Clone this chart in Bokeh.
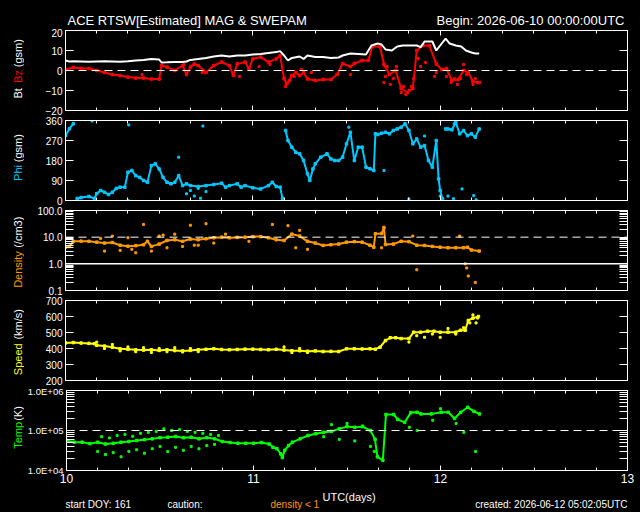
import numpy as np
from math import pi
from bokeh.plotting import figure
from bokeh.layouts import column, row
from bokeh.models import Range1d, LinearAxis, LogAxis, FixedTicker, Span
from bokeh.core.properties import value
from bokeh.embed import file_html
from bokeh.resources import INLINE

NaN = float("nan")

# ---------------- data (hours after 2026-06-10 00:00 UTC) ----------------
bt_h = [0, 0.5, 1, 2, 3, 4, 5, 6, 7, 8, 9, 10, 11, 12, 12.3, 13, 14, 15, 15.5, 16, 17, 18, 19, 20, 21, 22, 23,
        24, 25, 26, 27, 27.5, 28, 28.5, 29, 30, 30.5, 31, 32, 33, 34, 35, 35.5, 36.5, 37.5, 38.5, 39.2, 40, 40.5,
        41, 41.8, 42.5, 43.2, 44, 45, 45.5, 46, 47, 47.5, 48, 48.7, 49.2, 50, 50.7, 51.3, 52, 52.5, 53]
bt = [5, 4.5, 4.6, 4.5, 4.4, 4.5, 4.6, 4.5, 4.4, 4.6, 5, 5.3, 5.8, 5.5, 4, 4.1, 4.3, 4.2, 4.5, 5.3, 5.8, 6.3, 7, 7.5,
      7, 7.5, 7.5, 8, 8.3, 8.8, 9.2, 9.7, 7.5, 5, 6.3, 7, 5.8, 7.5, 6.7, 6.7, 6.2, 6.5, 7.5, 8.5, 8.3, 8, 12.5, 13.5,
      13, 10.5, 10, 12, 12.5, 12.5, 12.5, 11.7, 14.5, 14.5, 10, 12.5, 16, 13.5, 12.5, 12, 10, 9, 8.5, 8.5]
bz_h = [0, 1, 2, 3, 4, 5, 6, 7, 8, 9, 10, 11, 12, 12.3, 13, 14, 15, 15.5, 16, 16.5, 17, 18, 19, 20, 21, 21.5, 22,
        23, 23.5, 24, 25, 26, 27, 27.5, 28, 28.3, 28.7, 29, 29.5, 30, 30.5, 31, 32, 33, 34, 34.8, 35.5, 36.5, 37,
        38, 38.8, 39.3, 40.3, 40.8, 41.5, 42.3, 43, 43.8, 44.5, 45, 45.8, 46.6, 47.5, 48.2, 48.8, 49.5, 50.3,
        51, 51.6, 52.2, 53]
bz = [0.5, 1.5, 1, 1, 0, -1, -2, -2.5, -3.3, -3.8, -3.8, -4.3, -4.3, 2.5, 1.7, 0, 2.5, -2, 1.7, 3.3, 2.5, -1, 2.5,
      4.2, 2.5, -2.5, 3.3, 4.2, 0.8, 5.8, 6.7, 4.2, 5.8, 7.5, -4, -6.7, -5, -2.5, -1, -2.5, -1, -4.2, -5, -4.5,
      -4.5, -2, 3.5, 2, 3.5, 5, 5, 12, 12, 3, -2, 0, -9, -11, -9, 10, 12.5, 12.5, 3.3, 0.5, 1, -5, -4.5, 0, -1,
      -5.5, -6]
bz_sc_h = [9.8, 15.2, 17.5, 22.3, 24.8, 26.2, 28.2, 28.5, 29.3, 30.2, 31.5, 36.5, 40.8, 41.0, 41.2, 41.6, 42.0,
           42.4, 43.0, 43.3, 43.6, 44.0, 44.3, 44.6, 45.2, 45.5, 46.1, 47.3, 47.5, 48.8, 49.4, 49.8, 50.2, 50.6,
           51.0, 51.4, 52.2, 52.5, 52.8]
bz_sc = [-2, 3, -1, -3, 2, 3, -8, -6, -3, 0.5, -1, -2, -6, -3, 2, -7, -4, 2, -11, -8, -12, -10, -8, -4, 6, 2, 4,
         -3, -1, -3, -6, -4, -7, -4, 3, -2, -7, -4, -6]

phi_h = [0, 0.5, 1, 1.3, 1.5, 2, 3, 3.7, 4, 4.5, 5, 5.5, 6, 6.5, 7, 7.6, 8, 8.5, 9, 9.5, 10, 10.5, 11, 11.5, 12,
         12.5, 13, 13.5, 14, 14.5, 15, 15.5, 16, 17, 18, 19, 20, 20.5, 21, 22, 22.5, 23, 24, 25, 26, 26.5, 27,
         27.5, 27.8, 28, 28.2, 28.5, 29, 29.5, 30, 30.5, 31, 31.3, 31.7, 32, 32.7, 33.5, 34, 34.5, 35, 35.5, 36,
         36.5, 37, 37.5, 38, 38.5, 39, 39.5, 39.7, 40, 40.5, 41, 41.5, 42, 42.5, 43, 43.5, 44, 44.5, 45, 45.5,
         46, 46.5, 47, 47.5, 47.8, 48, 48.3, 48.5, 48.7, 49, 49.5, 50, 50.5, 51, 51.5, 52, 52.5, 53]
phi = [292, 323, 345, NaN, 9, 13, 18, 9, 31, 45, 37, 27, 37, 54, 60, 60, 127, 135, 112, 104, 90, 82, 157, 165, 142,
       104, 82, 75, 82, 112, 67, 75, 67, 63, 67, 72, 78, 60, 67, 75, 60, 67, 57, 52, 67, 82, 63, 60, 9, NaN, 315,
       270, 240, 217, 210, 180, 120, 90, 142, 165, 195, 210, 187, 180, 180, 195, 255, 307, 180, 240, 240, 150,
       143, 135, 300, 297, 303, 307, 300, 315, 322, 330, 345, 315, 255, 277, 240, 247, 180, 150, 270, 97, 45, 7,
       NaN, 322, 322, 318, 352, 300, 315, 292, 300, 285, 322]
phi_sc_h = [3.4, 8.0, 8.1, 14.5, 15.5, 16.0, 16.5, 17.0, 17.3, 17.6, 18.0, 40.8, 44.0, 48.0, 49.0, 49.7, 50.8,
            52.3, 52.6, 36.3, 46.0, 49.8]
phi_sc = [358, 0, 340, 195, 30, 45, 20, 55, 10, 335, 40, 135, 7, 20, 20, 8, 52, 22, 3, 330, 290, 345]

den_h = [0, 0.5, 1, 2, 3, 4, 5, 6, 7, 8, 9, 10, 10.5, 11, 12, 13, 14, 15, 16, 17, 18, 19, 20, 21, 22, 23, 24, 25,
         26, 27, 28, 29, 30, 31, 32, 33, 34, 35, 36, 37, 38, 39, 39.5, 39.7, 40.5, 40.8, 41, 42, 43, 44, 45, 46,
         47, 48, 49, 50, 51, 51.5, 52, 53]
den = [4.2, 4.5, 7.0, 7.1, 7.0, 6.5, 6.0, 6.3, 5.0, 4.6, 4.8, 5.2, 7.0, 4.5, 5.5, 7.5, 8.0, 7.0, 8.5, 8.0, 8.7,
       9.5, 10, 9.5, 9.8, 10, 10.5, 10.5, 9.5, 8.0, 7.5, 13, 11, 7.0, 6.0, 4.9, 5.2, 5.5, 6.5, 6.8, 6.5, 5.0, 4.2,
       13.4, 13.7, 23, 5.3, 5.5, 7.0, 6.8, 5.0, 4.9, 4.5, 4.2, 4.0, 4.0, 4.0, 4.2, 3.3, 3.0]
den_sc_h = [5, 6, 7, 8, 9, 10, 11, 12, 13, 14, 15, 16, 17, 18, 19, 26.5, 28.5, 29.5, 30, 31, 40.5, 44.5, 45, 50.5,
            51.2, 51.4, 51.6, 52.5, 4.5, 8.5, 12.5, 16.5, 20.5, 23.5]
den_sc = [3.0, 11, 3.2, 9.5, 2.6, 30, 3.0, 11, 4.0, 13, 4.5, 28, 5.0, 32, 6.0, 30, 27, 4.0, 18, 3.5, 4.0, 11, 0.6,
          11, 1.0, 0.7, 0.35, 0.2, 9, 3.5, 12, 5, 13, 7]

spd_h = [0, 1, 2, 3, 3.7, 4, 5, 6, 7, 8, 9, 10, 11, 12, 13, 14, 15, 16, 17, 18, 19, 20, 21, 22, 23, 24, 25, 26,
         27, 28, 29, 30, 31, 32, 33, 34, 35, 36, 37, 38, 39, 39.7, 40.3, 41, 41.6, 42.3, 43, 44, 44.6, 45.5, 46.4,
         47.2, 48, 49, 50, 50.6, 51.2, 51.6, 52.2, 52.9]
spd = [435, 437, 434, 432, 430, 420, 415, 408, 398, 395, 392, 390, 392, 388, 392, 387, 385, 388, 392, 395, 398,
       394, 392, 394, 396, 396, 394, 392, 395, 390, 386, 386, 383, 385, 381, 382, 381, 398, 398, 397, 398, 396,
       408, 450, 467, 467, 462, 462, 502, 502, 508, 508, 502, 502, 502, 514, 514, 575, 590, 600]
spd_sc_h = [4, 5, 6, 7, 8, 9, 10, 11, 12, 13, 14, 15, 16, 17, 28, 29, 30, 31, 44, 45, 46, 47, 48, 49, 50, 51, 51.8,
            52.2, 52.6, 52.8]
spd_sc = [440, 400, 425, 385, 410, 380, 405, 375, 400, 380, 405, 378, 400, 380, 410, 375, 400, 375, 440, 480, 470,
          490, 470, 525, 490, 530, 560, 610, 560, 590]

tmp_h = [0, 1, 2, 3, 4, 5, 6, 7, 8, 9, 10, 11, 12, 13, 14, 15, 16, 17, 18, 19, 20, 21, 22, 23, 24, 25, 26, 26.5,
         27, 27.5, 27.7, 28, 28.5, 29, 30, 31, 32, 33, 34, 35, 36, 37, 38, 39, 39.6, 39.9, 40.6, 41, 42, 42.5,
         43.4, 44.2, 45, 45.5, 46.8, 48.1, 49, 49.8, 50.6, 51.5, 52.3, 53]
tmp = [56000, 51000, 51000, 47000, 51000, 46000, 48000, 51000, 53000, 56000, 59000, 62000, 66000, 68000, 71000,
       66000, 68000, 62000, 66000, 62000, 53000, 50000, 48000, 48000, 48000, 50000, 46000, 38000, 35000, 26000,
       21000, 32000, 42000, 51000, 62000, 75000, 83000, 90000, 95000, 110000, 125000, 120000, 125000, 100000,
       60000, 22000, 18000, 250000, 250000, 190000, 160000, 280000, 285000, 260000, 260000, 285000, 285000,
       200000, 285000, 380000, 300000, 260000]
tmp_sc_h = [4, 4.5, 5, 5.5, 6, 6.5, 7, 7.5, 8, 8.5, 9, 9.5, 10, 10.5, 11, 11.5, 12, 12.5, 13, 13.5, 14, 14.5, 15,
            15.5, 16, 16.5, 17, 17.5, 18, 18.5, 19, 19.5, 33, 34, 35, 36, 37, 38, 39, 39.5, 44, 45, 47, 48, 50,
            51, 52.5]
tmp_sc = [30000, 70000, 25000, 65000, 28000, 75000, 22000, 80000, 30000, 72000, 33000, 85000, 27000, 90000, 35000,
          95000, 40000, 110000, 30000, 100000, 38000, 105000, 32000, 95000, 40000, 90000, 35000, 85000, 42000,
          80000, 45000, 75000, 70000, 140000, 60000, 150000, 55000, 130000, 40000, 30000, 120000, 100000, 180000,
          350000, 150000, 90000, 30000]

x_ticks = [10, 11, 12, 13]


def days(hours):
    return np.array([10 + h / 24.0 for h in hours])


FONT = "Liberation Sans"
BLACK = "black"
xr = Range1d(10, 13)
X_MINOR = [10 + k / 6.0 for k in range(19)]
LW = 24  # width of the left label strip


def style_axis(ax, labels=True, size="10px"):
    ax.axis_line_color = "white"
    ax.major_tick_line_color = "white"
    ax.minor_tick_line_color = "white"
    ax.major_tick_out = 0
    ax.minor_tick_out = 0
    ax.major_label_text_font = FONT
    if labels:
        ax.major_label_text_color = "white"
        ax.major_label_text_font_size = size
        ax.major_label_standoff = 3
    else:
        ax.major_label_text_color = None
        ax.major_label_text_font_size = "1px"
        ax.major_label_standoff = 0


def make_panel(h, top, bottom, y0, y1, yticks, yminor=None, log=False, overrides=None, xlabels=False,
               ysize="10px"):
    p = figure(width=640 - LW, height=h, x_range=xr, y_range=Range1d(y0, y1),
               y_axis_type="log" if log else "linear",
               x_axis_location=None, y_axis_location=None,
               output_backend="svg", toolbar_location=None,
               min_border_left=65 - LW, min_border_right=13,
               min_border_top=top, min_border_bottom=bottom,
               background_fill_color=BLACK, border_fill_color=BLACK,
               outline_line_color="white", outline_line_width=1)
    for g in p.xgrid + p.ygrid:
        g.visible = False
    Ax = LogAxis if log else LinearAxis
    for side in ["left", "right"]:
        ax = Ax(ticker=FixedTicker(ticks=yticks, minor_ticks=yminor or []))
        style_axis(ax, labels=(side == "left"), size=ysize)
        ax.major_tick_in = 8
        ax.minor_tick_in = 8 if log else 0
        if overrides and side == "left":
            ax.major_label_overrides = overrides
        p.add_layout(ax, side)
    for side in ["above", "below"]:
        ax = LinearAxis(ticker=FixedTicker(ticks=x_ticks, minor_ticks=X_MINOR))
        style_axis(ax, labels=(xlabels and side == "below"), size="12px")
        ax.major_tick_in = 5
        ax.minor_tick_in = 3
        p.add_layout(ax, side)
    return p


def text_fig(w, h):
    f = figure(width=w, height=h, x_range=Range1d(0, w), y_range=Range1d(0, h),
               x_axis_location=None, y_axis_location=None, min_border=0,
               outline_line_color=None, background_fill_color=BLACK, border_fill_color=BLACK,
               toolbar_location=None, output_backend="svg")
    for g in f.xgrid + f.ygrid:
        g.visible = False
    return f


def put(f, x, y, s, color="white", size="10px", align="left", angle=0.0):
    f.text(x=[x], y=[y], text=[s], text_color=color, text_font=value(FONT), text_font_size=size,
           text_align=align, text_baseline="middle", angle=angle)


def side_labels(h, parts):
    f = text_fig(LW, h)
    for s, y, c in parts:
        put(f, 17, y, s, color=c, size="11px", angle=pi / 2)
    return f


DASH = "8 5"
CYAN = "#00c8ff"
ORANGE = "#ff9900"
YEL = "#ffff00"
GREEN = "#00ff00"

# ---- header ----
head = text_fig(640, 28)
put(head, 67, 8, "ACE RTSW[Estimated] MAG & SWEPAM", size="13px")
put(head, 624, 8, "Begin: 2026-06-10 00:00:00UTC", size="13px", align="right")

# ---- panel 1: Bt / Bz ----
p1 = make_panel(87, 2, 5, -20, 20, [-20, -10, 0, 10, 20])
p1.add_layout(Span(location=0, dimension="width", line_color="white", line_dash=DASH, line_width=1))
p1.line(days(bz_h), bz, line_color="red", line_width=2)
p1.scatter(days(bz_h), bz, marker="square", size=2.5, color="red")
p1.scatter(days(bz_sc_h), bz_sc, marker="square", size=2, color="red")
p1.line(days(bt_h), bt, line_color="white", line_width=2)
l1 = side_labels(87, [("Bt", 13, "white"), ("Bz", 30, "red"), ("(gsm)", 47, "white")])

# ---- panel 2: Phi ----
p2 = make_panel(90, 5, 5, 0, 360, [0, 90, 180, 270, 360])
p2.line(days(phi_h), phi, line_color=CYAN, line_width=2)
p2.scatter(days(phi_h), phi, marker="square", size=2.5, color=CYAN)
p2.scatter(days(phi_sc_h), phi_sc, marker="square", size=2, color=CYAN)
l2 = side_labels(90, [("Phi", 22, CYAN), ("(gsm)", 43, "white")])

# ---- panel 3: Density ----
den_minor = [0.2, 0.3, 0.4, 0.5, 0.6, 0.7, 0.8, 0.9, 2, 3, 4, 5, 6, 7, 8, 9, 20, 30, 40, 50, 60, 70, 80, 90]
p3 = make_panel(90, 5, 5, 0.1, 100, [0.1, 1, 10, 100], den_minor, log=True,
                overrides={0.1: "0.1", 1: "1.0", 10: "10.0", 100: "100.0"})
p3.add_layout(Span(location=10, dimension="width", line_color="white", line_dash=DASH, line_width=1))
p3.add_layout(Span(location=1, dimension="width", line_color="white", line_width=1.5))
p3.line(days(den_h), den, line_color=ORANGE, line_width=2)
p3.scatter(days(den_h), den, marker="square", size=2.5, color=ORANGE)
p3.scatter(days(den_sc_h), den_sc, marker="square", size=2, color=ORANGE)
l3 = side_labels(90, [("Density", 3, ORANGE), ("(/cm3)", 48, "white")])

# ---- panel 4: Speed ----
p4 = make_panel(90, 5, 5, 200, 700, [200, 300, 400, 500, 600, 700])
p4.line(days(spd_h), spd, line_color=YEL, line_width=2)
p4.scatter(days(spd_h), spd, marker="square", size=2.5, color=YEL)
p4.scatter(days(spd_sc_h), spd_sc, marker="square", size=2, color=YEL)
l4 = side_labels(90, [("Speed", 6, YEL), ("(km/s)", 46, "white")])

# ---- panel 5: Temp ----
tmp_minor = [2e4, 3e4, 4e4, 5e4, 6e4, 7e4, 8e4, 9e4, 2e5, 3e5, 4e5, 5e5, 6e5, 7e5, 8e5, 9e5]
p5 = make_panel(103, 5, 18, 1e4, 1e6, [1e4, 1e5, 1e6], tmp_minor, log=True,
                overrides={10000: "1.0E+04", 100000: "1.0E+05", 1000000: "1.0E+06"}, xlabels=True,
                ysize="9.5px")
p5.add_layout(Span(location=1e5, dimension="width", line_color="white", line_dash=DASH, line_width=1))
p5.line(days(tmp_h), tmp, line_color=GREEN, line_width=2)
p5.scatter(days(tmp_h), tmp, marker="square", size=2.5, color=GREEN)
p5.scatter(days(tmp_sc_h), tmp_sc, marker="square", size=2, color=GREEN)
l5 = side_labels(103, [("Temp", 28, GREEN), ("(K)", 64, "white")])

# ---- footer ----
foot = text_fig(640, 24)
put(foot, 322, 16, "UTC(days)", size="11px")
put(foot, 65, 8, "start DOY: 161")
put(foot, 167, 8, "caution:")
put(foot, 270, 8, "density < 1", color=ORANGE)
put(foot, 627, 8, "created: 2026-06-12 05:02:05UTC", align="right")

BG = {"background-color": "black"}
rows = [row(l, p, spacing=0, styles=BG) for l, p in [(l1, p1), (l2, p2), (l3, p3), (l4, p4), (l5, p5)]]
layout = column(head, *rows, foot, spacing=0, styles=BG)
open("out.html", "w").write(file_html(layout, INLINE))
